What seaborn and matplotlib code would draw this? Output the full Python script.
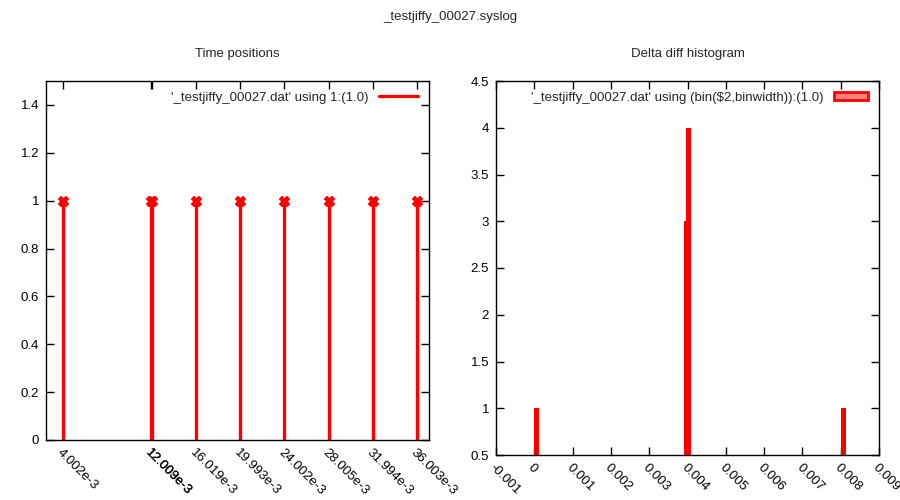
import matplotlib
matplotlib.use("Agg")
import matplotlib.pyplot as plt
import seaborn as sns
import pandas as pd
from matplotlib.patches import Patch
from matplotlib.lines import Line2D

# time positions (seconds)
times = [4.002e-3, 12.003e-3, 12.009e-3, 16.019e-3, 19.993e-3,
         24.002e-3, 28.005e-3, 31.994e-3, 36.003e-3]
time_labels = ["4.002e-3", "12.003e-3", "12.009e-3", "16.019e-3", "19.993e-3",
               "24.002e-3", "28.005e-3", "31.994e-3", "36.003e-3"]

# delta histogram bins (bin position, count)
bin_pos = [0.000045, 0.003985, 0.004035, 0.008065]
bin_count = [1, 3, 4, 1]
bin_width = 0.00013

hist_xticks = [-0.001, 0, 0.001, 0.002, 0.003, 0.004, 0.005, 0.006, 0.007, 0.008, 0.009]
hist_xlabels = ["-0.001", "0", "0.001", "0.002", "0.003", "0.004", "0.005",
                "0.006", "0.007", "0.008", "0.009"]
left_yticks = [0, 0.2, 0.4, 0.6, 0.8, 1, 1.2, 1.4]
left_ylabels = ["0", "0.2", "0.4", "0.6", "0.8", "1", "1.2", "1.4"]
right_yticks = [0.5, 1, 1.5, 2, 2.5, 3, 3.5, 4, 4.5]
right_ylabels = ["0.5", "1", "1.5", "2", "2.5", "3", "3.5", "4", "4.5"]

FS = 9.5

sns.set_theme(style="white")
plt.rcParams['font.family'] = ['Liberation Sans', 'DejaVu Sans']
plt.rcParams['font.size'] = FS

fig = plt.figure(figsize=(9, 5), dpi=100)
fig.text(0.5, 1 - 17 / 500, "_testjiffy_00027.syslog", ha="center", va="center", fontsize=FS)

ax1 = fig.add_axes([46 / 900, 60 / 500, 383 / 900, 359 / 500])
ax2 = fig.add_axes([496 / 900, 45 / 500, 383 / 900, 374 / 500])


def style_axis(ax):
	for _, spine in ax.spines.items():
		spine.set_visible(True)
		spine.set_color("black")
		spine.set_linewidth(1.0)
	ax.tick_params(direction="in", length=6, width=1, top=True, right=True,
	               bottom=True, left=True, colors="black", labelsize=FS)
	ax.tick_params(axis="x", pad=5)
	ax.tick_params(axis="y", pad=5)
	ax.grid(False)


# left: time positions
df_t = pd.DataFrame({"t": times, "y": [1.0] * len(times)})
ax1.vlines(df_t["t"], 0, df_t["y"], color="red", linewidth=2.4, zorder=2)
sns.scatterplot(data=df_t, x="t", y="y", ax=ax1, marker="X", s=50, color="red",
                edgecolor="red", linewidth=1, zorder=3, legend=False)
ax1.set_xlim(2.47e-3, 37.08e-3)
ax1.set_ylim(0, 1.5)
ax1.set_xticks(times)
ax1.set_xticklabels(time_labels, rotation=-45, ha="left", va="top", rotation_mode="anchor")
ax1.set_yticks(left_yticks)
ax1.set_yticklabels(left_ylabels)
ax1.set_xlabel("")
ax1.set_ylabel("")
ax1.set_title("Time positions", fontsize=FS, pad=17)
style_axis(ax1)
ax1.legend(handles=[Line2D([0], [0], color="red", linewidth=2.4)],
           labels=["'_testjiffy_00027.dat' using 1:(1.0)"], loc="upper right",
           frameon=False, markerfirst=False, handlelength=3.0, fontsize=FS,
           borderaxespad=0.5, borderpad=0.3)

# right: delta diff histogram
ax2.bar(bin_pos, bin_count, width=bin_width, color="red", edgecolor="red",
        linewidth=0, bottom=0, zorder=2)
ax2.set_xlim(-0.001, 0.009)
ax2.set_ylim(0.5, 4.5)
ax2.set_xticks(hist_xticks)
ax2.set_xticklabels(hist_xlabels, rotation=-45, ha="left", va="top", rotation_mode="anchor")
ax2.set_yticks(right_yticks)
ax2.set_yticklabels(right_ylabels)
ax2.set_title("Delta diff histogram", fontsize=FS, pad=17)
style_axis(ax2)
ax2.legend(handles=[Patch(facecolor="#ff8080", edgecolor="red", linewidth=2)],
           labels=["'_testjiffy_00027.dat' using (bin($2,binwidth)):(1.0)"],
           loc="upper right", frameon=False, markerfirst=False, handlelength=2.6,
           handleheight=0.6, fontsize=FS, borderaxespad=0.5, borderpad=0.3)

for lbl in ax1.get_xticklabels() + ax2.get_xticklabels():
	lbl.set_clip_on(False)

fig.savefig("out.png", dpi=100)
